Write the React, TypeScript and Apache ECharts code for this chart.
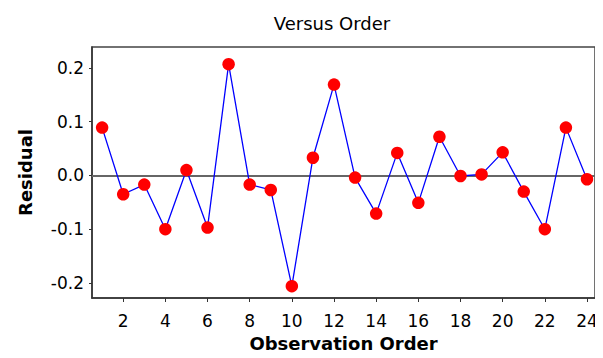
import React, { useEffect, useRef } from "react";
import * as echarts from "echarts";

const observations = [1, 2, 3, 4, 5, 6, 7, 8, 9, 10, 11, 12, 13, 14, 15, 16, 17, 18, 19, 20, 21, 22, 23, 24];
const residuals = [0.089, -0.035, -0.017, -0.1, 0.01, -0.097, 0.207, -0.017, -0.027, -0.206, 0.033, 0.169, -0.004, -0.071, 0.042, -0.051, 0.072, -0.001, 0.002, 0.043, -0.03, -0.1, 0.089, -0.007];
const xTicks = [2, 4, 6, 8, 10, 12, 14, 16, 18, 20, 22, 24];
const yTicks = [-0.2, -0.1, 0, 0.1, 0.2];

const FONT = "DejaVu Sans";

export default function App() {
  const ref = useRef<HTMLDivElement>(null);
  useEffect(() => {
    if (!ref.current) return;
    const chart = echarts.init(ref.current, null, { renderer: "svg" });
    chart.setOption({
      animation: false,
      backgroundColor: "#fff",
      title: {
        text: "Versus Order",
        left: 332,
        top: 14,
        padding: 0,
        textAlign: "center",
        textStyle: { fontFamily: FONT, fontSize: 18, fontWeight: "normal", color: "#000" },
      },
      grid: {
        left: 92,
        top: 47,
        right: 8,
        bottom: 60,
        show: true,
        borderColor: "#444",
        borderWidth: 1.5,
        backgroundColor: "#fff",
      },
      xAxis: {
        type: "value",
        min: 0.52,
        max: 24.38,
        name: "Observation Order",
        nameLocation: "middle",
        nameGap: 36,
        nameTextStyle: { fontFamily: FONT, fontSize: 18, fontWeight: "bold", color: "#000" },
        axisLine: { show: true, onZero: false, lineStyle: { color: "#333", width: 1.5 } },
        axisTick: { show: true, length: 4, customValues: xTicks, lineStyle: { color: "#333" } },
        axisLabel: {
          customValues: xTicks,
          margin: 14,
          fontFamily: FONT,
          fontSize: 17,
          color: "#000",
        },
        splitLine: { show: false },
      },
      yAxis: {
        type: "value",
        min: -0.228,
        max: 0.239,
        name: "Residual",
        nameLocation: "middle",
        nameGap: 58,
        nameTextStyle: { fontFamily: FONT, fontSize: 18, fontWeight: "bold", color: "#000" },
        axisLine: { show: true, onZero: false, lineStyle: { color: "#333", width: 1.5 } },
        axisTick: { show: true, length: 3, customValues: yTicks, lineStyle: { color: "#333" } },
        axisLabel: {
          customValues: yTicks,
          margin: 8,
          fontFamily: FONT,
          fontSize: 17,
          color: "#000",
          formatter: (v: number) => v.toFixed(1),
        },
        splitLine: { show: false },
      },
      series: [
        {
          type: "line",
          data: observations.map((o, i) => [o, residuals[i]]),
          symbol: "circle",
          symbolSize: 12.5,
          itemStyle: { color: "#ff0000" },
          lineStyle: { color: "#0000ff", width: 1.3 },
          z: 3,
          markLine: {
            silent: true,
            symbol: "none",
            label: { show: false },
            lineStyle: { color: "#666", width: 2, type: "solid" },
            data: [{ yAxis: 0 }],
            z: 1,
          },
        },
      ],
    });
    return () => chart.dispose();
  }, []);
  return <div ref={ref} style={{ width: 603, height: 358, margin: -8 }} />;
}
